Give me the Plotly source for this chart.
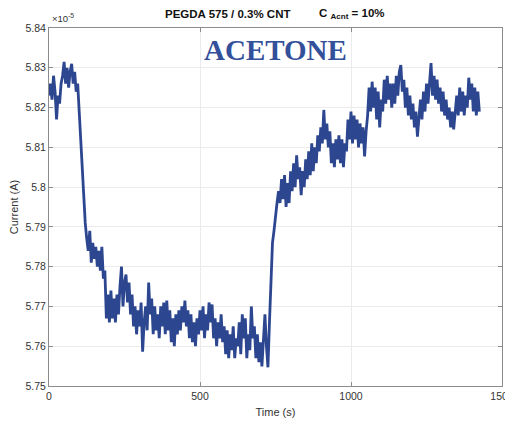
import plotly.graph_objects as go

# Current in units of 1e-5 A, sampled every 5 s from t = 0
seg_a = [5.823, 5.826, 5.822, 5.828, 5.824, 5.817, 5.823, 5.821, 5.826, 5.828,
         5.8315, 5.826, 5.830, 5.825, 5.829, 5.831, 5.826, 5.829, 5.824, 5.826]
seg_b = [5.819, 5.812, 5.803, 5.797, 5.791, 5.787, 5.784, 5.789, 5.781, 5.786,
         5.782, 5.785, 5.780, 5.784, 5.779, 5.785, 5.777, 5.779, 5.767, 5.773,
         5.766, 5.774, 5.767, 5.772, 5.766, 5.773, 5.768, 5.775, 5.780, 5.770,
         5.776, 5.778, 5.771, 5.776, 5.768, 5.773, 5.765, 5.770, 5.763, 5.769,
         5.765, 5.771, 5.7586, 5.766, 5.770, 5.764, 5.776, 5.768, 5.772, 5.763,
         5.770, 5.764, 5.768, 5.762, 5.770]
seg_c = [5.765, 5.771, 5.763, 5.7715, 5.764, 5.769, 5.761, 5.767, 5.760, 5.768,
         5.763, 5.769, 5.764, 5.770, 5.766, 5.7715, 5.765, 5.769, 5.762, 5.768,
         5.761, 5.766, 5.760, 5.767, 5.763, 5.769, 5.764, 5.770, 5.762, 5.768,
         5.764, 5.771, 5.766, 5.7705, 5.762, 5.767, 5.760, 5.766, 5.762, 5.768,
         5.761, 5.765, 5.758, 5.764, 5.757, 5.763, 5.759, 5.765, 5.757, 5.762,
         5.760, 5.766, 5.758, 5.768, 5.762, 5.767, 5.757, 5.763, 5.759, 5.770,
         5.762, 5.765, 5.757, 5.763, 5.756, 5.761, 5.7549, 5.762, 5.768, 5.760,
         5.7547, 5.766]
seg_d = [5.779, 5.786, 5.789, 5.793, 5.796, 5.799, 5.796, 5.802, 5.797, 5.803,
         5.795, 5.801, 5.796, 5.804, 5.799, 5.806, 5.800, 5.808, 5.802, 5.805,
         5.798, 5.804, 5.800, 5.807, 5.802, 5.809, 5.803, 5.811, 5.804, 5.810,
         5.806, 5.813, 5.809, 5.815, 5.811, 5.8194, 5.812, 5.816, 5.810, 5.814,
         5.806, 5.811, 5.805, 5.812, 5.807, 5.813, 5.806, 5.812, 5.805, 5.811,
         5.809, 5.817, 5.812, 5.819, 5.811, 5.818, 5.812, 5.817, 5.810, 5.816,
         5.811, 5.815, 5.8077, 5.814]
seg_e = [5.818, 5.825, 5.819, 5.8265, 5.820, 5.825, 5.817, 5.824, 5.815, 5.822,
         5.819, 5.827, 5.821, 5.828, 5.822, 5.826, 5.820, 5.826, 5.821, 5.828,
         5.823, 5.829, 5.8307, 5.824, 5.827, 5.820, 5.825, 5.818, 5.823, 5.817,
         5.821, 5.815, 5.819, 5.8127, 5.818, 5.822, 5.817, 5.824, 5.819, 5.826,
         5.821, 5.827, 5.8312, 5.823, 5.828, 5.822, 5.827, 5.821, 5.825, 5.819,
         5.824, 5.818, 5.822, 5.817, 5.820, 5.815, 5.819, 5.8145, 5.818, 5.823,
         5.818, 5.825, 5.819, 5.824, 5.818, 5.823, 5.820, 5.8275, 5.822, 5.826,
         5.819, 5.825, 5.818, 5.824, 5.819]
current = seg_a + seg_b + seg_c + seg_d + seg_e
sample_step_s = 5
time_s = [sample_step_s * i for i in range(len(current))]

x_ticks = [0, 500, 1000, 1500]
y_ticks = [5.75, 5.76, 5.77, 5.78, 5.79, 5.80, 5.81, 5.82, 5.83, 5.84]
y_tick_text = ["5.75", "5.76", "5.77", "5.78", "5.79", "5.8", "5.81", "5.82", "5.83", "5.84"]

fig = go.Figure()
fig.add_trace(go.Scatter(x=time_s, y=current, mode="lines",
                         line=dict(color="#2d4690", width=2.8), showlegend=False))

axis_common = dict(showline=True, linecolor="#8c8c8c", linewidth=1, mirror="ticks",
                   ticks="inside", ticklen=4, tickcolor="#8c8c8c", automargin=False,
                   showgrid=True, gridcolor="#ebebeb", gridwidth=1, zeroline=False,
                   tickfont=dict(family="Liberation Sans, Arial", size=10.5, color="#333333"))

fig.update_xaxes(range=[0, 1500], tickvals=x_ticks, **axis_common,
                 title=dict(text="Time (s)", standoff=7,
                            font=dict(family="Liberation Sans, Arial", size=11, color="#333333")))
fig.update_yaxes(range=[5.75, 5.84], tickvals=y_ticks, ticktext=y_tick_text, **axis_common,
                 title=dict(text="Current (A)", standoff=4,
                            font=dict(family="Liberation Sans, Arial", size=11, color="#333333")))

fig.add_annotation(text="<b>PEGDA 575 / 0.3% CNT</b>", xref="paper", yref="paper",
                   x=0.395, y=1.039, xanchor="center", yanchor="middle", showarrow=False,
                   font=dict(family="Liberation Sans, Arial", size=11.5, color="#111111"))
fig.add_annotation(text="<b>C <sub>Acnt</sub> = 10%</b>", xref="paper", yref="paper",
                   x=0.592, y=1.039, xanchor="left", yanchor="middle", showarrow=False,
                   font=dict(family="Liberation Sans, Arial", size=11.5, color="#111111"))
fig.add_annotation(text="<b>ACETONE</b>", xref="paper", yref="paper",
                   x=0.499, y=0.9385, xanchor="center", yanchor="middle", showarrow=False,
                   font=dict(family="Liberation Serif, Times New Roman", size=29, color="#33509a"))
fig.add_annotation(text="×10<sup>-5</sup>", xref="paper", yref="paper",
                   x=0.002, y=1.005, xanchor="left", yanchor="bottom", showarrow=False,
                   font=dict(family="Liberation Sans, Arial", size=9.5, color="#333333"))

# page body adds an 8 px offset, so margins are shifted to land the plot area at the reference pixels
fig.update_layout(width=513, height=425, margin=dict(l=41, r=19, t=20, b=47),
                  plot_bgcolor="white", paper_bgcolor="white")

fig.write_html("out.html")
